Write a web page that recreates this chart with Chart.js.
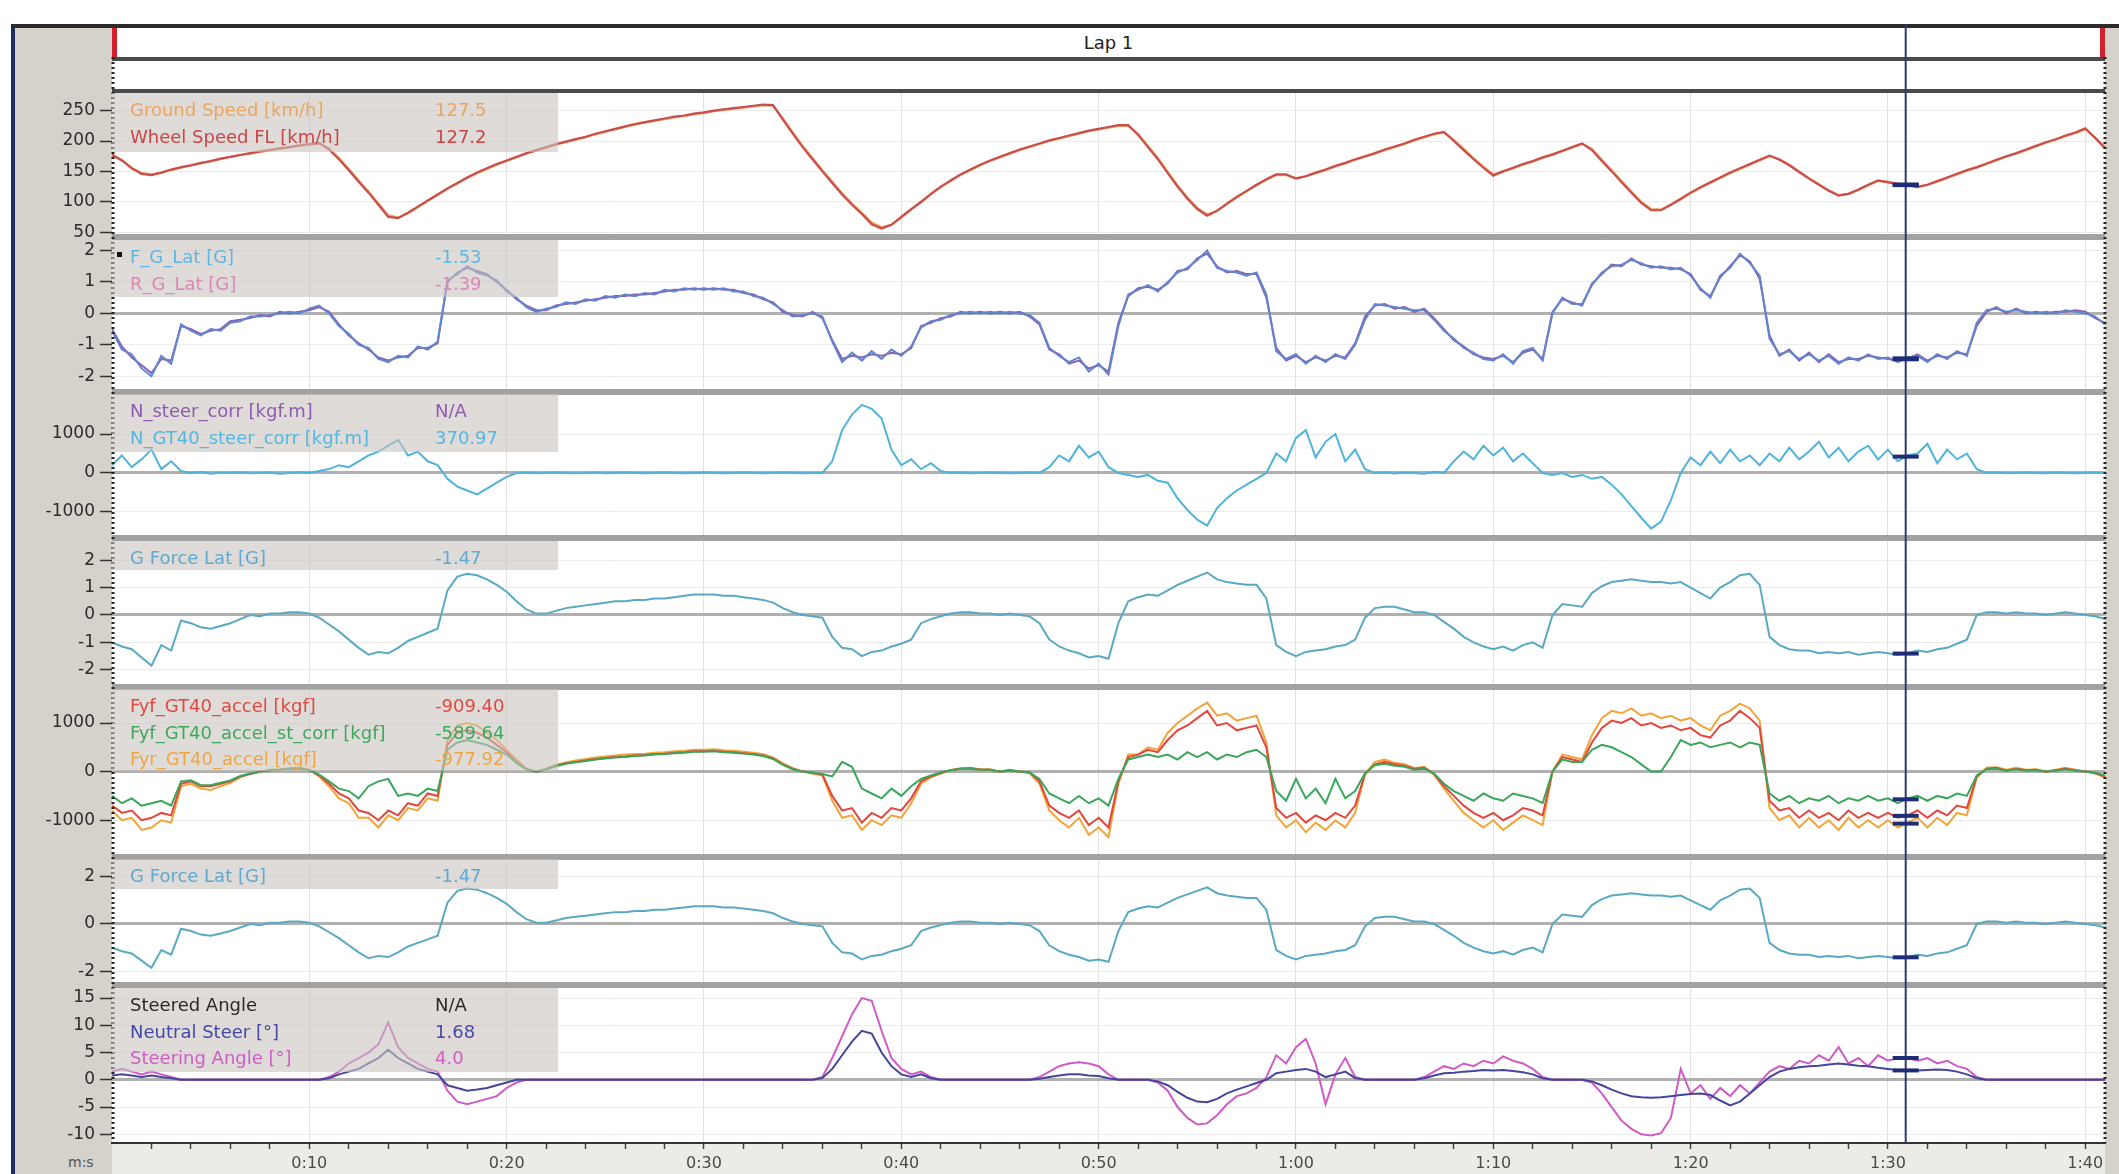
<!DOCTYPE html>
<html>
<head>
<meta charset="utf-8">
<script src="https://cdn.jsdelivr.net/npm/chart.js@4.4.1/dist/chart.umd.min.js"></script>
<style>
  body { margin:0; width:2119px; height:1174px; position:relative; background:#fff; overflow:hidden; font-family:'DejaVu Sans', sans-serif; }
  .abs { position:absolute; }
  .leg { position:absolute; left:112px; width:446px; background:rgba(200,195,190,0.6); padding-top:4px; z-index:2; font-size:18px; }
  .row { position:relative; height:26.5px; line-height:26.5px; white-space:nowrap; }
  .lbl { position:absolute; left:18px; width:296px; overflow:hidden; }
  .val { position:absolute; left:323px; }
  canvas { position:absolute; left:0; top:0; z-index:1; }
</style>
</head>
<body>
<div class="abs" style="left:11px;top:24px;width:2108px;height:1150px;background:#d5d1cb;border-left:4px solid #1e2b5e;"></div>
<div class="abs" style="left:11px;top:24px;width:2108px;height:4px;background:#2b2b2b;"></div>
<div class="abs" style="left:112px;top:28px;width:1993px;height:29px;background:#fff;text-align:center;line-height:29px;font-size:18px;color:#222;">Lap 1</div>
<div class="abs" style="left:112px;top:57px;width:1993px;height:4px;background:#4a4a4a;"></div>
<div class="abs" style="left:112px;top:61px;width:1993px;height:28px;background:#fff;"></div>
<div class="abs" style="left:112px;top:89px;width:1993px;height:4px;background:#4a4a4a;"></div>
<div class="abs" style="left:112px;top:28px;width:5px;height:29px;background:#d3202c;"></div>
<div class="abs" style="left:2100px;top:28px;width:5px;height:29px;background:#d3202c;"></div>

<canvas id="lapChart" width="2119" height="1174"></canvas>

<div class="leg" style="top:93px;height:55px;">
  <div class="row"><span class="lbl" style="color:#eca55e">Ground Speed [km/h]</span><span class="val" style="color:#eca55e">127.5</span></div>
  <div class="row"><span class="lbl" style="color:#cc4646">Wheel Speed FL [km/h]</span><span class="val" style="color:#cc4646">127.2</span></div>
</div>
<div class="leg" style="top:240px;height:53px;">
  <div class="row"><span class="lbl" style="color:#5fb6e0">F_G_Lat [G]</span><span class="val" style="color:#5fb6e0">-1.53</span></div>
  <div class="row"><span class="lbl" style="color:#dc86b6">R_G_Lat [G]</span><span class="val" style="color:#dc86b6">-1.39</span></div>
</div>
<div class="leg" style="top:394px;height:54px;">
  <div class="row"><span class="lbl" style="color:#8e5cae">N_steer_corr [kgf.m]</span><span class="val" style="color:#8e5cae">N/A</span></div>
  <div class="row"><span class="lbl" style="color:#55b7df">N_GT40_steer_corr [kgf.m]</span><span class="val" style="color:#55b7df">370.97</span></div>
</div>
<div class="leg" style="top:541px;height:25px;">
  <div class="row"><span class="lbl" style="color:#5fa9d2">G Force Lat [G]</span><span class="val" style="color:#5fa9d2">-1.47</span></div>
</div>
<div class="leg" style="top:689px;height:78px;">
  <div class="row"><span class="lbl" style="color:#df4a40">Fyf_GT40_accel [kgf]</span><span class="val" style="color:#df4a40">-909.40</span></div>
  <div class="row"><span class="lbl" style="color:#3fa85c">Fyf_GT40_accel_st_corr [kgf]</span><span class="val" style="color:#3fa85c">-589.64</span></div>
  <div class="row"><span class="lbl" style="color:#f0a640">Fyr_GT40_accel [kgf]</span><span class="val" style="color:#f0a640">-977.92</span></div>
</div>
<div class="leg" style="top:859px;height:26px;">
  <div class="row"><span class="lbl" style="color:#5fa9d2">G Force Lat [G]</span><span class="val" style="color:#5fa9d2">-1.47</span></div>
</div>
<div class="leg" style="top:988px;height:80px;">
  <div class="row"><span class="lbl" style="color:#2a2a2a">Steered Angle</span><span class="val" style="color:#2a2a2a">N/A</span></div>
  <div class="row"><span class="lbl" style="color:#4848a6">Neutral Steer [°]</span><span class="val" style="color:#4848a6">1.68</span></div>
  <div class="row"><span class="lbl" style="color:#d05cc6">Steering Angle [°]</span><span class="val" style="color:#d05cc6">4.0</span></div>
</div>
<div class="abs" style="left:117px;top:252px;width:5px;height:5px;background:#111;z-index:3;"></div>
<div class="abs" style="left:68px;top:1154px;font-size:14px;color:#555;">m:s</div>

<script>
// sample times (s)
const times = [
  0,0.5,1,1.5,2,2.5,3,3.5,4,4.5,5,5.5,6,6.5,7,7.5,8,8.5,9,9.5,
  10,10.5,11,11.5,12,12.5,13,13.5,14,14.5,15,15.5,16,16.5,17,17.5,18,18.5,19,19.5,
  20,20.5,21,21.5,22,22.5,23,23.5,24,24.5,25,25.5,26,26.5,27,27.5,28,28.5,29,29.5,
  30,30.5,31,31.5,32,32.5,33,33.5,34,34.5,35,35.5,36,36.5,37,37.5,38,38.5,39,39.5,
  40,40.5,41,41.5,42,42.5,43,43.5,44,44.5,45,45.5,46,46.5,47,47.5,48,48.5,49,49.5,
  50,50.5,51,51.5,52,52.5,53,53.5,54,54.5,55,55.5,56,56.5,57,57.5,58,58.5,59,59.5,
  60,60.5,61,61.5,62,62.5,63,63.5,64,64.5,65,65.5,66,66.5,67,67.5,68,68.5,69,69.5,
  70,70.5,71,71.5,72,72.5,73,73.5,74,74.5,75,75.5,76,76.5,77,77.5,78,78.5,79,79.5,
  80,80.5,81,81.5,82,82.5,83,83.5,84,84.5,85,85.5,86,86.5,87,87.5,88,88.5,89,89.5,
  90,90.5,91,91.5,92,92.5,93,93.5,94,94.5,95,95.5,96,96.5,97,97.5,98,98.5,99,99.5,
  100,100.5,101
];

const wheelSpeedFL = [
  177,168,155,146,144,148,153,157,160,164,167,171,174,177,180,183,185,188,190,193,
  195,197,186,170,152,133,115,95,75,73,82,92,102,112,122,131,140,148,155,162,
  168,174,180,185,190,195,199,203,207,212,216,220,224,228,231,234,237,240,242,245,
  247,250,252,254,256,258,260,259,235,212,190,170,150,131,112,95,80,63,56,62,
  75,88,100,113,125,135,145,153,161,168,174,180,186,191,196,201,205,209,213,217,
  220,223,226,226,210,190,170,147,125,105,88,77,85,97,108,118,128,137,145,145,
  138,142,148,153,159,164,170,175,180,186,191,196,202,207,212,215,200,185,170,156,
  143,150,156,162,167,173,178,184,190,196,185,167,150,132,115,98,86,86,95,105,
  115,124,132,140,148,155,162,169,176,169,160,149,138,128,118,110,113,120,128,135,
  132,129,127,124,128,134,140,146,152,157,163,169,175,180,186,192,198,203,209,214,
  221,205,188
];
const groundSpeed = [
  178,169,156,147,145,148,152,156,160,163,167,170,174,177,179,182,185,187,190,192,
  194,196,188,172,154,135,117,97,78,74,81,91,101,111,121,130,139,147,154,161,
  167,173,179,184,189,194,198,202,206,211,215,219,223,227,230,233,236,239,241,244,
  246,249,251,253,255,257,259,258,237,214,192,172,152,133,114,97,82,66,58,62,
  74,87,99,112,124,134,144,152,160,167,173,179,185,190,195,200,204,208,212,216,
  219,222,225,225,212,192,172,149,127,107,90,79,85,96,107,117,127,136,144,144,
  139,142,147,152,158,163,169,174,179,185,190,195,201,206,211,214,202,187,172,158,
  145,150,155,161,166,172,177,183,189,195,187,169,152,134,117,100,88,87,95,104,
  114,123,131,139,147,154,161,168,175,170,161,150,139,129,119,111,113,119,127,134,
  133,130,128,125,128,133,139,145,151,156,162,168,174,179,185,191,197,202,208,213,
  219,206,190
];

const fGLat = [
  -0.55,-1.15,-1.3,-1.75,-2.0,-1.35,-1.6,-0.35,-0.55,-0.7,-0.5,-0.55,-0.3,-0.25,-0.1,-0.1,-0.05,0.0,0.05,0.0,
  0.15,0.25,0.0,-0.4,-0.65,-1.0,-1.1,-1.45,-1.55,-1.35,-1.4,-1.05,-1.15,-0.9,1.05,1.25,1.5,1.3,1.2,1.05,
  0.7,0.5,0.2,0.05,0.15,0.2,0.35,0.3,0.45,0.4,0.55,0.5,0.6,0.55,0.65,0.6,0.75,0.7,0.8,0.75,
  0.8,0.75,0.8,0.7,0.7,0.55,0.5,0.3,0.1,-0.1,-0.05,0.0,-0.1,-0.9,-1.55,-1.25,-1.5,-1.2,-1.45,-1.15,
  -1.35,-1.05,-0.45,-0.25,-0.2,-0.05,0.0,0.05,0.0,0.05,0.0,0.05,0.0,-0.05,-0.3,-1.1,-1.35,-1.55,-1.4,-1.85,
  -1.6,-1.95,-0.4,0.6,0.75,0.9,0.7,1.0,1.3,1.45,1.7,2.0,1.45,1.35,1.3,1.2,1.3,0.6,-1.2,-1.45,
  -1.3,-1.6,-1.35,-1.55,-1.3,-1.45,-1.0,-0.2,0.3,0.25,0.2,0.15,0.1,0.1,-0.2,-0.55,-0.8,-1.1,-1.25,-1.45,
  -1.5,-1.3,-1.6,-1.2,-1.1,-1.5,0.0,0.5,0.3,0.3,0.9,1.3,1.5,1.55,1.7,1.6,1.45,1.5,1.4,1.45,
  1.2,0.8,0.5,1.2,1.45,1.9,1.6,1.2,-0.8,-1.3,-1.2,-1.45,-1.3,-1.5,-1.35,-1.6,-1.4,-1.5,-1.3,-1.45,
  -1.4,-1.55,-1.4,-1.35,-1.55,-1.3,-1.45,-1.2,-1.35,-0.3,0.1,0.15,0.05,0.1,0.05,0.0,0.05,0.0,0.1,0.05,
  0.0,-0.1,-0.35
];
const rGLat = [
  -0.5,-1.05,-1.4,-1.65,-1.9,-1.45,-1.5,-0.4,-0.5,-0.65,-0.55,-0.5,-0.25,-0.2,-0.15,-0.05,-0.1,0.05,0.0,0.05,
  0.1,0.2,0.05,-0.35,-0.7,-0.95,-1.15,-1.4,-1.5,-1.4,-1.35,-1.1,-1.1,-0.95,1.0,1.3,1.45,1.35,1.25,1.0,
  0.75,0.45,0.25,0.1,0.1,0.25,0.3,0.35,0.4,0.45,0.5,0.55,0.55,0.6,0.6,0.65,0.7,0.75,0.75,0.8,
  0.75,0.8,0.75,0.75,0.65,0.6,0.45,0.35,0.05,-0.05,-0.1,0.05,-0.15,-0.85,-1.45,-1.35,-1.4,-1.3,-1.35,-1.25,
  -1.3,-1.1,-0.4,-0.3,-0.15,-0.1,0.05,0.0,0.05,0.0,0.05,0.0,0.05,-0.1,-0.35,-1.15,-1.3,-1.6,-1.5,-1.75,
  -1.65,-1.85,-0.3,0.55,0.8,0.85,0.75,0.95,1.35,1.4,1.75,1.9,1.5,1.3,1.35,1.25,1.25,0.5,-1.1,-1.5,
  -1.35,-1.55,-1.4,-1.5,-1.35,-1.4,-0.95,-0.1,0.25,0.3,0.15,0.2,0.05,0.15,-0.15,-0.5,-0.85,-1.05,-1.3,-1.4,
  -1.45,-1.35,-1.55,-1.25,-1.15,-1.45,0.05,0.45,0.35,0.25,0.95,1.25,1.55,1.5,1.75,1.55,1.5,1.45,1.45,1.4,
  1.25,0.75,0.55,1.15,1.5,1.85,1.65,1.1,-0.7,-1.35,-1.15,-1.5,-1.25,-1.55,-1.3,-1.55,-1.45,-1.45,-1.35,-1.4,
  -1.45,-1.5,-1.45,-1.3,-1.5,-1.35,-1.4,-1.25,-1.3,-0.4,0.05,0.2,0.0,0.15,0.0,0.05,0.0,0.05,0.05,0.1,
  0.05,-0.15,-0.3
];

const steerCorr = [
  200,450,150,350,600,100,300,50,0,30,-20,10,0,20,-10,0,10,-20,0,20,
  0,50,100,200,150,300,450,550,700,850,450,550,300,200,-150,-350,-450,-550,-400,-250,
  -100,0,10,-10,0,10,0,-10,0,10,-10,0,10,0,-10,0,10,0,-10,0,
  10,0,-10,0,10,0,-10,0,10,0,-10,0,0,300,1100,1500,1750,1650,1400,600,
  200,350,100,250,50,0,10,-10,0,10,0,-10,0,10,0,150,450,300,700,400,
  550,150,0,-50,-100,-50,-200,-250,-650,-950,-1200,-1350,-900,-650,-450,-300,-150,0,500,300,
  900,1100,400,800,1000,300,600,100,0,20,-10,10,0,-20,30,0,300,550,350,700,
  450,650,300,500,250,0,-50,0,-100,-50,-150,-100,-300,-550,-850,-1150,-1430,-1250,-700,0,
  400,200,550,250,600,300,450,200,500,300,650,350,550,800,400,650,300,550,700,350,
  600,300,450,500,750,250,600,350,500,100,0,10,-10,0,10,0,-10,10,0,-10,
  0,10,0
];

const gForceLat = [
  -1.0,-1.15,-1.25,-1.55,-1.85,-1.1,-1.3,-0.2,-0.3,-0.45,-0.5,-0.4,-0.3,-0.15,0.0,-0.05,0.05,0.05,0.1,0.1,
  0.05,-0.1,-0.35,-0.6,-0.9,-1.2,-1.45,-1.35,-1.4,-1.2,-0.95,-0.8,-0.65,-0.5,0.9,1.4,1.5,1.45,1.3,1.1,
  0.85,0.5,0.2,0.05,0.05,0.15,0.25,0.3,0.35,0.4,0.45,0.5,0.5,0.55,0.55,0.6,0.6,0.65,0.7,0.75,
  0.75,0.75,0.7,0.7,0.65,0.6,0.55,0.45,0.25,0.1,0.0,-0.05,-0.1,-0.8,-1.2,-1.25,-1.5,-1.35,-1.3,-1.15,
  -1.05,-0.9,-0.3,-0.15,-0.05,0.05,0.1,0.1,0.05,0.05,0.0,0.05,0.0,-0.05,-0.3,-0.9,-1.15,-1.3,-1.4,-1.55,
  -1.5,-1.6,-0.3,0.5,0.65,0.75,0.7,0.9,1.1,1.25,1.4,1.55,1.3,1.2,1.15,1.1,1.1,0.6,-1.1,-1.35,
  -1.5,-1.35,-1.3,-1.25,-1.15,-1.1,-0.9,-0.1,0.25,0.3,0.3,0.2,0.1,0.1,0.0,-0.25,-0.5,-0.8,-1.0,-1.15,
  -1.25,-1.15,-1.3,-1.1,-1.0,-1.2,0.0,0.4,0.35,0.3,0.8,1.05,1.2,1.25,1.3,1.25,1.2,1.2,1.15,1.2,
  1.0,0.8,0.6,1.0,1.2,1.45,1.5,1.1,-0.8,-1.1,-1.25,-1.3,-1.3,-1.4,-1.35,-1.4,-1.35,-1.45,-1.4,-1.35,
  -1.4,-1.45,-1.4,-1.3,-1.35,-1.25,-1.2,-1.05,-0.9,0.0,0.1,0.1,0.05,0.1,0.05,0.05,0.0,0.05,0.1,0.05,
  0.0,-0.05,-0.15
];

const fyfAccel = [
  -700,-850,-800,-1000,-950,-850,-900,-250,-200,-300,-300,-250,-200,-100,-50,0,30,40,60,60,
  30,-80,-250,-450,-550,-800,-850,-1000,-800,-900,-650,-700,-450,-500,550,800,850,800,700,550,
  400,200,50,0,50,120,170,200,230,260,280,300,310,330,340,360,370,390,400,420,
  420,430,410,400,380,360,330,270,150,60,0,-30,-60,-500,-800,-750,-1050,-850,-950,-750,
  -800,-550,-200,-100,-30,30,60,70,40,40,0,30,0,-20,-200,-700,-850,-950,-800,-1100,
  -950,-1150,-200,300,350,450,400,650,850,950,1100,1250,950,1000,850,900,950,500,-750,-950,
  -850,-1050,-900,-1000,-850,-950,-700,-50,150,200,150,120,60,80,-50,-300,-500,-700,-850,-950,
  -850,-1000,-900,-750,-800,-900,0,300,250,200,600,900,1050,1000,1100,950,1000,900,950,850,
  900,750,700,950,1050,1250,1100,900,-600,-800,-750,-950,-800,-950,-850,-1000,-800,-950,-850,-950,
  -850,-950,-900,-800,-950,-800,-900,-700,-750,-100,60,80,20,60,30,40,0,30,60,30,
  0,-30,-100
];
const fyfStCorr = [
  -500,-650,-550,-700,-650,-600,-700,-200,-180,-280,-280,-230,-180,-90,-40,0,30,40,60,60,
  30,-60,-200,-350,-400,-550,-300,-200,-150,-500,-450,-500,-350,-400,450,600,650,600,550,450,
  350,180,40,0,50,110,160,190,220,250,270,290,300,320,330,350,360,380,390,410,
  410,420,400,390,370,350,320,260,140,50,0,-20,-50,-100,200,100,-350,-450,-550,-350,
  -500,-300,-150,-80,-20,30,60,60,40,40,0,30,0,-20,-150,-450,-550,-650,-500,-650,
  -550,-700,-150,250,300,350,300,350,250,400,300,400,250,350,300,400,450,300,-400,-600,
  -150,-550,-350,-650,-150,-550,-400,-30,130,160,120,100,40,60,-40,-250,-400,-500,-600,-450,
  -550,-600,-450,-500,-550,-650,0,250,200,200,450,550,500,400,300,150,0,0,300,650,
  550,600,500,550,600,500,600,550,-450,-600,-500,-650,-550,-600,-500,-650,-550,-600,-500,-600,
  -550,-650,-550,-500,-600,-500,-550,-450,-500,-80,50,60,20,50,20,30,0,20,50,20,
  0,-20,-80
];
const fyrAccel = [
  -800,-1000,-950,-1200,-1150,-1000,-1050,-300,-250,-350,-380,-300,-230,-120,-40,-10,40,50,70,80,
  40,-100,-300,-550,-650,-950,-950,-1150,-900,-1000,-750,-800,-550,-600,650,950,1000,950,800,650,
  450,250,60,0,60,140,190,230,260,290,310,330,350,360,370,390,400,420,430,450,
  450,460,440,430,410,390,360,290,170,70,0,-40,-80,-600,-950,-900,-1200,-1000,-1100,-900,
  -950,-650,-250,-120,-40,30,70,80,50,50,0,40,0,-30,-250,-800,-1000,-1150,-950,-1300,
  -1150,-1350,-250,350,350,500,450,800,1000,1150,1300,1420,1150,1200,1050,1100,1150,600,-900,-1150,
  -1000,-1250,-1050,-1200,-1000,-1150,-850,-50,200,250,180,150,70,100,-60,-350,-600,-850,-1000,-1150,
  -1000,-1200,-1050,-900,-1000,-1100,0,350,300,250,750,1100,1250,1200,1300,1150,1200,1100,1150,1050,
  1100,950,850,1150,1250,1400,1300,1050,-750,-1000,-900,-1150,-950,-1150,-1000,-1200,-950,-1150,-1000,-1150,
  -1000,-1150,-1050,-950,-1150,-950,-1100,-850,-900,-120,80,90,40,80,40,50,0,40,80,40,
  0,-40,-120
];

const neutralSteer = [
  0.8,1.0,0.8,0.5,0.8,0.5,0.3,0,0,0,0,0,0,0,0,0,0,0,0,0,
  0,0,0.3,1.0,1.5,2.0,3.0,4.0,5.5,4.0,3.0,2.0,1.5,1.0,-1.0,-1.5,-2.0,-1.8,-1.5,-1.0,
  -0.5,0,0,0,0,0,0,0,0,0,0,0,0,0,0,0,0,0,0,0,
  0,0,0,0,0,0,0,0,0,0,0,0,0.3,2.0,4.5,7.0,9.0,8.5,5.0,2.5,
  1.0,0.5,1.0,0.3,0,0,0,0,0,0,0,0,0,0,0.2,0.5,0.8,1.0,1.0,0.8,
  0.7,0.3,0,0,0,0,-0.3,-1.0,-2.2,-3.3,-4.0,-4.1,-3.5,-2.5,-1.8,-1.2,-0.6,0,1.2,1.5,
  1.8,2.0,1.5,0.5,1.0,1.5,0.3,0,0,0,0,0,0,0.3,0.8,1.2,1.3,1.5,1.6,1.8,
  1.7,1.8,1.6,1.4,1.0,0.3,0,0,0,0,-0.3,-1.0,-1.8,-2.5,-3.0,-3.2,-3.3,-3.2,-3.0,-2.8,
  -2.6,-2.5,-2.8,-3.8,-4.7,-4.0,-2.5,-1.0,0.5,1.5,2.0,2.3,2.5,2.6,2.8,3.0,2.8,2.6,2.5,2.2,
  2.0,1.8,1.7,1.7,1.8,1.9,1.8,1.5,1.0,0.3,0,0,0,0,0,0,0,0,0,0,
  0,0,0
];
const steeringAngle = [
  1.5,2.0,1.5,1.0,1.5,1.0,0.5,0,0,0,0,0,0,0,0,0,0,0,0,0,
  0,0,0.5,1.5,3.0,4.0,5.0,6.5,10.5,6.0,4.0,3.0,2.0,1.5,-2.0,-4.0,-4.5,-4.0,-3.5,-3.0,
  -1.5,-0.5,0,0,0,0,0,0,0,0,0,0,0,0,0,0,0,0,0,0,
  0,0,0,0,0,0,0,0,0,0,0,0,0.5,4.0,8.0,12.0,15.0,14.5,9.0,4.0,
  2.0,1.0,1.5,0.5,0,0,0,0,0,0,0,0,0,0,0.5,1.5,2.5,3.0,3.2,3.0,
  2.5,1.0,0,0,0,0,-0.5,-2.0,-5.0,-7.0,-8.2,-8.0,-6.5,-4.5,-3.0,-2.5,-1.5,0.5,4.5,3.0,
  6.0,7.5,3.0,-4.5,1.0,4.0,0.5,0,0,0,0,0,0,0.5,1.5,2.5,2.0,3.0,2.5,3.5,
  3.0,4.3,3.5,3.0,2.0,0.5,0,0,0,0,-0.5,-2.5,-5.0,-7.5,-9.0,-10.0,-10.2,-9.8,-7.0,2.0,
  -2.5,-1.0,-3.5,-1.5,-3.0,-1.0,-2.5,-0.5,1.5,2.5,2.0,3.5,3.0,4.5,3.5,6.0,3.0,4.0,2.5,4.5,
  3.5,4.0,4.0,3.5,4.0,3.0,3.5,2.5,2.0,0.5,0,0,0,0,0,0,0,0,0,0,
  0,0,0
];

// tick labels
const timeTicks = [2,4,6,8,10,12,14,16,18,20,22,24,26,28,30,32,34,36,38,40,42,44,46,48,50,
                   52,54,56,58,60,62,64,66,68,70,72,74,76,78,80,82,84,86,88,90,92,94,96,98,100];
const speedTicks = [250,200,150,100,50];
const gLatTicks = [2,1,0,-1,-2];
const steerTicks = [1000,0,-1000];
const gForceTicks = [2,1,0,-1,-2];
const forceTicks = [1000,0,-1000];
const gForceTicks2 = [2,0,-2];
const angleTicks = [15,10,5,0,-5,-10];
const cursorTime = 90.9;

Chart.defaults.font.family = "'DejaVu Sans', sans-serif";

const panels = [
  { id: 'p1', min: 42, max: 279, h: 144, ticks: speedTicks },
  { id: 'p2', min: -2.5, max: 2.43, h: 155, ticks: gLatTicks },
  { id: 'p3', min: -1670, max: 2080, h: 146, ticks: steerTicks },
  { id: 'p4', min: -2.63, max: 2.81, h: 149, ticks: gForceTicks },
  { id: 'p5', min: -1757, max: 1741, h: 170, ticks: forceTicks },
  { id: 'p6', min: -2.58, max: 2.83, h: 128, ticks: gForceTicks2 },
  { id: 'p7', min: -11.6, max: 17.4, h: 158, ticks: angleTicks }
];

function fmtTime(v) {
  return Math.floor(v / 60) + ':' + String(v % 60).padStart(2, '0');
}

const scales = {
  x: {
    type: 'linear', min: 0, max: 101, position: 'bottom',
    afterFit: s => { s.height = 31; },
    afterBuildTicks: s => { s.ticks = timeTicks.map(v => ({ value: v })); },
    ticks: { autoSkip: false, maxRotation: 0, color: '#4a4a4a', font: { size: 16 }, padding: 5,
             callback: v => (v % 10 === 0 ? fmtTime(v) : '') },
    grid: { color: c => (c.tick && c.tick.value % 10 === 0 ? '#e2e2e2' : 'rgba(0,0,0,0)'),
            tickColor: '#444', tickLength: 6, tickWidth: 1.5, lineWidth: 1 },
    border: { color: '#333', width: 2 }
  }
};
panels.forEach((p, i) => {
  scales[p.id] = {
    type: 'linear', position: 'left', stack: 'lap', stackWeight: p.h, weight: panels.length - i,
    min: p.min, max: p.max,
    afterFit: s => { s.width = 94; },
    afterBuildTicks: s => { s.ticks = p.ticks.map(v => ({ value: v })); },
    ticks: { autoSkip: false, color: '#2c2c2c', font: { size: 17 }, padding: 5, callback: v => String(v) },
    grid: {
      color: c => (c.tick && c.tick.value === 0 ? '#b0b0b0' : '#ebebeb'),
      lineWidth: c => (c.tick && c.tick.value === 0 ? 3 : 1),
      tickColor: '#333', tickWidth: 1.5, tickLength: 12
    },
    border: { display: false }
  };
});

function line(label, data, color, axis, width) {
  return { label, data, borderColor: color, yAxisID: axis, borderWidth: width || 2,
           pointRadius: 0, tension: 0, fill: false };
}

const lapDecor = {
  id: 'lapDecor',
  beforeDraw(chart) {
    const { ctx, chartArea: a } = chart;
    ctx.save();
    ctx.fillStyle = '#ffffff';
    ctx.fillRect(a.left, a.top, a.right - a.left, a.bottom - a.top);
    ctx.fillStyle = '#ecebe7';
    ctx.fillRect(a.left, a.bottom, a.right - a.left, chart.height - a.bottom);
    ctx.restore();
  },
  afterDatasetsDraw(chart) {
    const { ctx, chartArea: a } = chart;
    ctx.save();
    // panel separators
    panels.slice(1).forEach(p => {
      const s = chart.scales[p.id];
      ctx.fillStyle = '#a2a2a2';
      ctx.fillRect(a.left, s.top - 3, a.right - a.left, 6);
    });
    // ruler-like edges
    ctx.strokeStyle = '#222';
    ctx.lineWidth = 3;
    ctx.setLineDash([2, 3]);
    [a.left + 1, a.right].forEach(x => {
      ctx.beginPath(); ctx.moveTo(x, 57); ctx.lineTo(x, a.bottom); ctx.stroke();
    });
    ctx.setLineDash([]);
    // cursor
    const cx = chart.scales.x.getPixelForValue(cursorTime);
    ctx.strokeStyle = '#2d3a72';
    ctx.lineWidth = 2;
    ctx.beginPath(); ctx.moveTo(cx, 24); ctx.lineTo(cx, a.bottom); ctx.stroke();
    // cursor markers
    const i = times.findIndex(t => t > cursorTime) - 1;
    const f = (cursorTime - times[i]) / (times[i + 1] - times[i]);
    ctx.fillStyle = '#1f2c78';
    chart.data.datasets.forEach(ds => {
      const v = ds.data[i] + (ds.data[i + 1] - ds.data[i]) * f;
      const y = chart.scales[ds.yAxisID].getPixelForValue(v);
      ctx.fillRect(cx - 13, y - 2, 26, 4);
    });
    ctx.restore();
  }
};

new Chart(document.getElementById('lapChart'), {
  type: 'line',
  data: {
    labels: times,
    datasets: [
      line('Wheel Speed FL [km/h]', wheelSpeedFL, '#c94f4f', 'p1', 2.2),
      line('Ground Speed [km/h]', groundSpeed, '#eba15a', 'p1', 2.2),
      line('F_G_Lat [G]', fGLat, '#5f86cf', 'p2'),
      line('R_G_Lat [G]', rGLat, '#8e5fb0', 'p2'),
      line('N_GT40_steer_corr [kgf.m]', steerCorr, '#4fb3dc', 'p3'),
      line('G Force Lat [G]', gForceLat, '#5aa9c4', 'p4'),
      line('Fyf_GT40_accel_st_corr [kgf]', fyfStCorr, '#3aa65a', 'p5'),
      line('Fyf_GT40_accel [kgf]', fyfAccel, '#e2463c', 'p5'),
      line('Fyr_GT40_accel [kgf]', fyrAccel, '#f1a43a', 'p5'),
      line('G Force Lat [G]', gForceLat, '#5aa9c4', 'p6'),
      line('Neutral Steer [°]', neutralSteer, '#45459c', 'p7'),
      line('Steering Angle [°]', steeringAngle, '#cf5bc4', 'p7')
    ]
  },
  options: {
    responsive: false,
    animation: false,
    devicePixelRatio: 1,
    layout: { padding: { left: 18, top: 93, right: 14, bottom: 0 } },
    plugins: { legend: { display: false }, tooltip: { enabled: false } },
    scales: scales
  },
  plugins: [lapDecor]
});
</script>
</body>
</html>
